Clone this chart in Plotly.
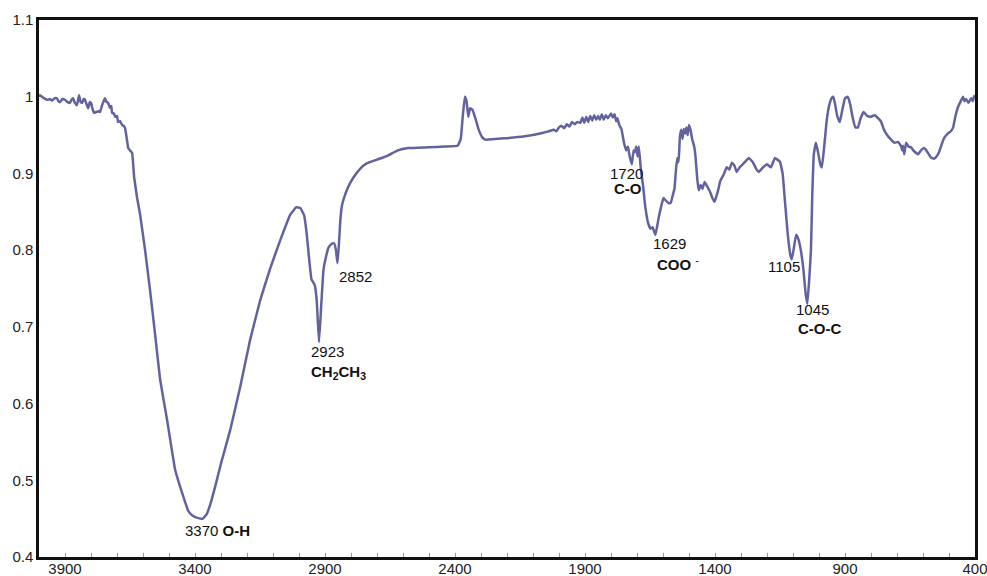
import plotly.graph_objects as go

# FTIR spectrum: wavenumber (cm-1) vs transmittance
wavenumber = [
    4000, 3996, 3985, 3975, 3965, 3958, 3950, 3940, 3931, 3925, 3919, 3910, 3900, 3890,
    3881, 3875, 3869, 3862, 3854, 3846, 3840, 3834, 3828, 3823, 3817, 3811, 3805, 3800,
    3794, 3788, 3780, 3770, 3765, 3758, 3754, 3746, 3740, 3734, 3728, 3722, 3719, 3712,
    3707, 3700, 3696, 3688, 3680, 3674, 3669, 3660, 3657, 3650, 3642, 3634, 3623, 3611,
    3592, 3573, 3553, 3534, 3507, 3476, 3449, 3426, 3410, 3390, 3370, 3355, 3340, 3320,
    3300, 3265, 3226, 3188, 3149, 3110, 3072, 3034, 3010, 2995, 2980, 2970, 2960, 2952,
    2940, 2932, 2923, 2915, 2906, 2895, 2887, 2875, 2865, 2858, 2852, 2847, 2841, 2835,
    2825, 2810, 2790, 2765, 2740, 2700, 2660, 2620, 2580, 2500, 2440, 2390, 2378, 2370,
    2362, 2356, 2349, 2342, 2333, 2320, 2310, 2295, 2283, 2200, 2137, 2060, 2040, 2020,
    2010, 2000, 1990, 1980, 1970, 1960, 1950, 1940, 1930, 1918, 1910, 1903, 1895, 1888,
    1880, 1872, 1865, 1857, 1850, 1843, 1835, 1828, 1820, 1812, 1800, 1793, 1786, 1780,
    1775, 1768, 1760, 1750, 1742, 1735, 1728, 1720, 1713, 1708, 1703, 1698, 1693, 1685,
    1677, 1668, 1657, 1648, 1640, 1635, 1629, 1622, 1615, 1605, 1598, 1590, 1578, 1570,
    1562, 1556, 1550, 1545, 1540, 1535, 1530, 1525, 1520, 1515, 1510, 1505, 1500, 1493,
    1488, 1480, 1475, 1468, 1462, 1455, 1448, 1440, 1433, 1425, 1418, 1410, 1402, 1395,
    1388, 1380, 1372, 1365, 1355, 1345, 1335, 1325, 1317, 1305, 1290, 1270, 1255, 1240,
    1232, 1215, 1200, 1185, 1170, 1160, 1150, 1140, 1130, 1120, 1110, 1105, 1098, 1088,
    1080, 1070, 1060, 1052, 1045, 1038, 1031, 1026, 1020, 1012, 1005, 995, 989, 980,
    970, 960, 950, 945, 938, 930, 920, 912, 900, 890, 880, 870, 860, 850,
    840, 828, 815, 800, 785, 773, 762, 750, 738, 723, 710, 696, 685, 680,
    677, 672, 665, 656, 646, 635, 619, 608, 596, 585, 570, 558, 548, 538,
    528, 519, 505, 493, 484, 475, 465, 455, 446, 440, 434, 425, 415, 408,
    404, 400,
]

transmittance = [
    1.000, 1.002, 0.999, 0.997, 0.996, 0.997, 0.995, 0.998, 0.998, 0.994, 0.993, 0.997, 0.996, 0.993,
    0.992, 0.996, 0.998, 0.992, 0.989, 1.002, 0.993, 0.992, 0.997, 0.996, 0.990, 0.985, 0.993, 0.992,
    0.984, 0.979, 0.980, 0.981, 0.980, 0.988, 0.992, 0.998, 0.993, 0.992, 0.986, 0.988, 0.979, 0.978,
    0.974, 0.975, 0.967, 0.968, 0.963, 0.962, 0.959, 0.940, 0.933, 0.930, 0.927, 0.895, 0.869, 0.846,
    0.800, 0.748, 0.689, 0.631, 0.578, 0.513, 0.483, 0.460, 0.454, 0.451, 0.450, 0.456, 0.470, 0.495,
    0.522, 0.565, 0.622, 0.683, 0.735, 0.777, 0.813, 0.846, 0.856, 0.855, 0.845, 0.820, 0.785, 0.762,
    0.755, 0.735, 0.680, 0.725, 0.774, 0.793, 0.803, 0.808, 0.809, 0.800, 0.783, 0.805, 0.839, 0.858,
    0.870, 0.883, 0.895, 0.906, 0.913, 0.918, 0.923, 0.930, 0.933, 0.934, 0.935, 0.936, 0.945, 0.975,
    1.000, 0.995, 0.974, 0.985, 0.983, 0.970, 0.958, 0.947, 0.944, 0.946, 0.948, 0.953, 0.955, 0.957,
    0.955, 0.960, 0.962, 0.959, 0.964, 0.961, 0.967, 0.964, 0.967, 0.966, 0.973, 0.966, 0.974, 0.967,
    0.975, 0.969, 0.976, 0.970, 0.975, 0.970, 0.977, 0.970, 0.976, 0.972, 0.978, 0.973, 0.977, 0.968,
    0.972, 0.963, 0.958, 0.940, 0.930, 0.935, 0.922, 0.912, 0.930, 0.928, 0.935, 0.922, 0.935, 0.905,
    0.885, 0.856, 0.835, 0.828, 0.830, 0.825, 0.820, 0.832, 0.845, 0.860, 0.868, 0.865, 0.861, 0.862,
    0.872, 0.880, 0.905, 0.920, 0.915, 0.948, 0.957, 0.945, 0.958, 0.952, 0.960, 0.950, 0.963, 0.955,
    0.945, 0.935, 0.922, 0.892, 0.878, 0.885, 0.880, 0.889, 0.885, 0.880, 0.875, 0.868, 0.863, 0.870,
    0.878, 0.890, 0.895, 0.900, 0.908, 0.905, 0.914, 0.910, 0.902, 0.908, 0.913, 0.920, 0.915, 0.905,
    0.902, 0.908, 0.912, 0.908, 0.920, 0.918, 0.915, 0.900, 0.860, 0.820, 0.793, 0.788, 0.800, 0.820,
    0.815, 0.800, 0.775, 0.745, 0.730, 0.760, 0.800, 0.870, 0.925, 0.940, 0.930, 0.912, 0.908, 0.935,
    0.970, 0.990, 0.999, 1.000, 0.990, 0.975, 0.967, 0.980, 0.998, 1.000, 0.990, 0.972, 0.960, 0.960,
    0.972, 0.980, 0.975, 0.974, 0.976, 0.972, 0.968, 0.957, 0.950, 0.944, 0.940, 0.941, 0.936, 0.930,
    0.936, 0.925, 0.940, 0.935, 0.934, 0.929, 0.925, 0.930, 0.933, 0.929, 0.921, 0.919, 0.922, 0.928,
    0.938, 0.946, 0.952, 0.955, 0.960, 0.975, 0.987, 0.994, 1.000, 0.994, 0.997, 0.992, 0.998, 0.994,
    1.000, 1.002,
]

# Peak labels: (wavenumber of text left edge, transmittance of text centre, text)
peak_labels = [
    (3446, 0.434, "3370 <b>O-H</b>"),
    (2960, 0.668, "2923"),
    (2960, 0.640, "<b>CH<sub>2</sub>CH<sub>3</sub></b>"),
    (2853, 0.766, "2852"),
    (1812, 0.900, "1720"),
    (1797, 0.880, "<b>C-O</b>"),
    (1647, 0.809, "1629"),
    (1632, 0.783, "<b>COO</b> <sup>-</sup>"),
    (1204, 0.779, "1105"),
    (1097, 0.722, "1045"),
    (1089, 0.698, "<b>C-O-C</b>"),
]

x_ticks = [3900, 3400, 2900, 2400, 1900, 1400, 900, 400]
y_ticks = [0.4, 0.5, 0.6, 0.7, 0.8, 0.9, 1.0, 1.1]
y_tick_text = ["0.4", "0.5", "0.6", "0.7", "0.8", "0.9", "1", "1.1"]

FONT = "Liberation Sans, Arial, Helvetica, sans-serif"

fig = go.Figure()
fig.add_trace(go.Scatter(
    x=wavenumber, y=transmittance, mode="lines",
    line=dict(color="#62629e", width=2.5, shape="spline", smoothing=0.3),
    showlegend=False, hoverinfo="x+y",
))

for xv, yv, txt in peak_labels:
    fig.add_annotation(
        x=xv, y=yv, text=txt, showarrow=False, xanchor="left", yanchor="middle",
        font=dict(family=FONT, size=15, color="#111111"),
    )

fig.update_layout(
    width=987, height=576,
    margin=dict(l=39, r=12, t=20, b=19, autoexpand=False),
    paper_bgcolor="white", plot_bgcolor="white",
    font=dict(family=FONT, size=15, color="#222222"),
)
fig.update_xaxes(
    range=[4000, 400], tickvals=x_ticks, ticks="inside", ticklen=4,
    tickcolor="#999999", tickwidth=1,
    minor=dict(dtick=100, tick0=400, ticks="inside", ticklen=4, tickcolor="#999999", tickwidth=1),
    showgrid=False, zeroline=False, automargin=False,
    ticklabelstandoff=-4, ticklabeloverflow="allow",
    showline=True, linecolor="#111111", linewidth=2.5, mirror=True,
    tickfont=dict(family=FONT, size=15, color="#222222"),
)
fig.update_yaxes(
    range=[0.4, 1.1], tickvals=y_ticks, ticktext=y_tick_text, ticks="",
    showgrid=False, zeroline=False, automargin=False,
    ticklabeloverflow="allow",
    showline=True, linecolor="#111111", linewidth=2.5, mirror=True,
    tickfont=dict(family=FONT, size=15, color="#222222"),
)

fig.write_html("out.html")
